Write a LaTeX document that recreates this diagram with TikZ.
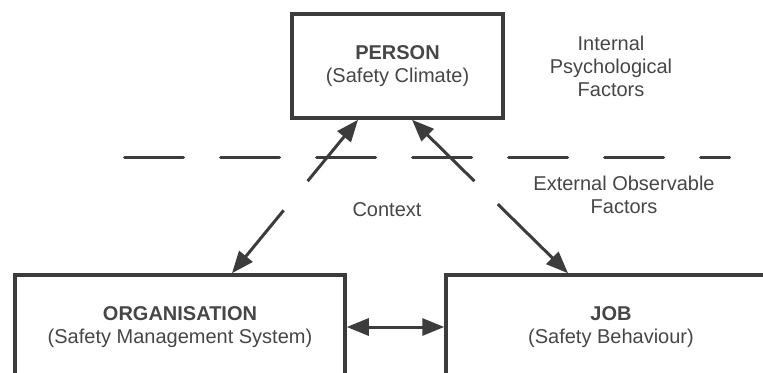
\documentclass[tikz,border=0pt]{standalone}
\usepackage{fontspec}
\setmainfont{Liberation Sans}
\definecolor{linegrey}{RGB}{60,60,60}
\definecolor{textgrey}{RGB}{70,70,70}
\usetikzlibrary{arrows.meta, positioning, calc}
\tikzset{
x=0.5pt, y=-0.5pt, % one unit is one pixel of the sketch, y going down
>={Triangle[length=11pt, width=8.5pt]}, % big filled arrow heads
every node/.style={text=textgrey, font=\fontsize{10}{11.5}\selectfont, align=center}, % text of every node
factor/.style={draw=linegrey, line width=1.75pt, minimum height=52pt, inner sep=0pt}, % sets the look of each box
link/.style={->, draw=linegrey, line width=1.5pt}, % arrows between the boxes
divider/.style={draw=linegrey, line width=1.5pt, line cap=round, dash pattern=on 29.5pt off 18.5pt}, % internal / external border
}
\tikzset{
  wide/.append style={factor, minimum width=165pt},
  narrow/.append style={factor, minimum width=105.5pt}
}

\begin{document}
\begin{tikzpicture}
      \useasboundingbox (0,0) rectangle (763,373);

      \node[narrow] (person) at (397.5,66) {\textbf{PERSON}\\(Safety Climate)};
      \node[wide] (org) at (180,327) {\textbf{ORGANISATION}\\(Safety Management System)};
      \node[wide, right=48.75pt of org] (job) {\textbf{JOB}\\(Safety Behaviour)};

      \node (internal) at (611,66) {Internal\\Psychological\\Factors};
      \node (external) at (624,195) {External Observable\\Factors};
      \node (context) at (387,210) {Context};

      \coordinate (sepleft) at (124.5,158);
      \coordinate (sepright) at (729.5,158);
      \draw[divider] (sepleft) -- (sepright);

      \coordinate (orgtop) at ([xshift=26pt]org.north);
      \coordinate (personleft) at ([xshift=-19.75pt]person.south);
      \coordinate (personright) at ([xshift=7.25pt]person.south);
      \coordinate (jobtop) at ([xshift=-21.5pt]job.north);

      \draw[link] ($(orgtop)!0.41!(personleft)$) -- (orgtop);
      \draw[link] ($(orgtop)!0.6!(personleft)$) -- (personleft);
      \draw[link] ($(personright)!0.4!(jobtop)$) -- (personright);
      \draw[link] ($(personright)!0.55!(jobtop)$) -- (jobtop);
      \draw[link, <->] (org) -- (job);
    \end{tikzpicture}
\end{document}
